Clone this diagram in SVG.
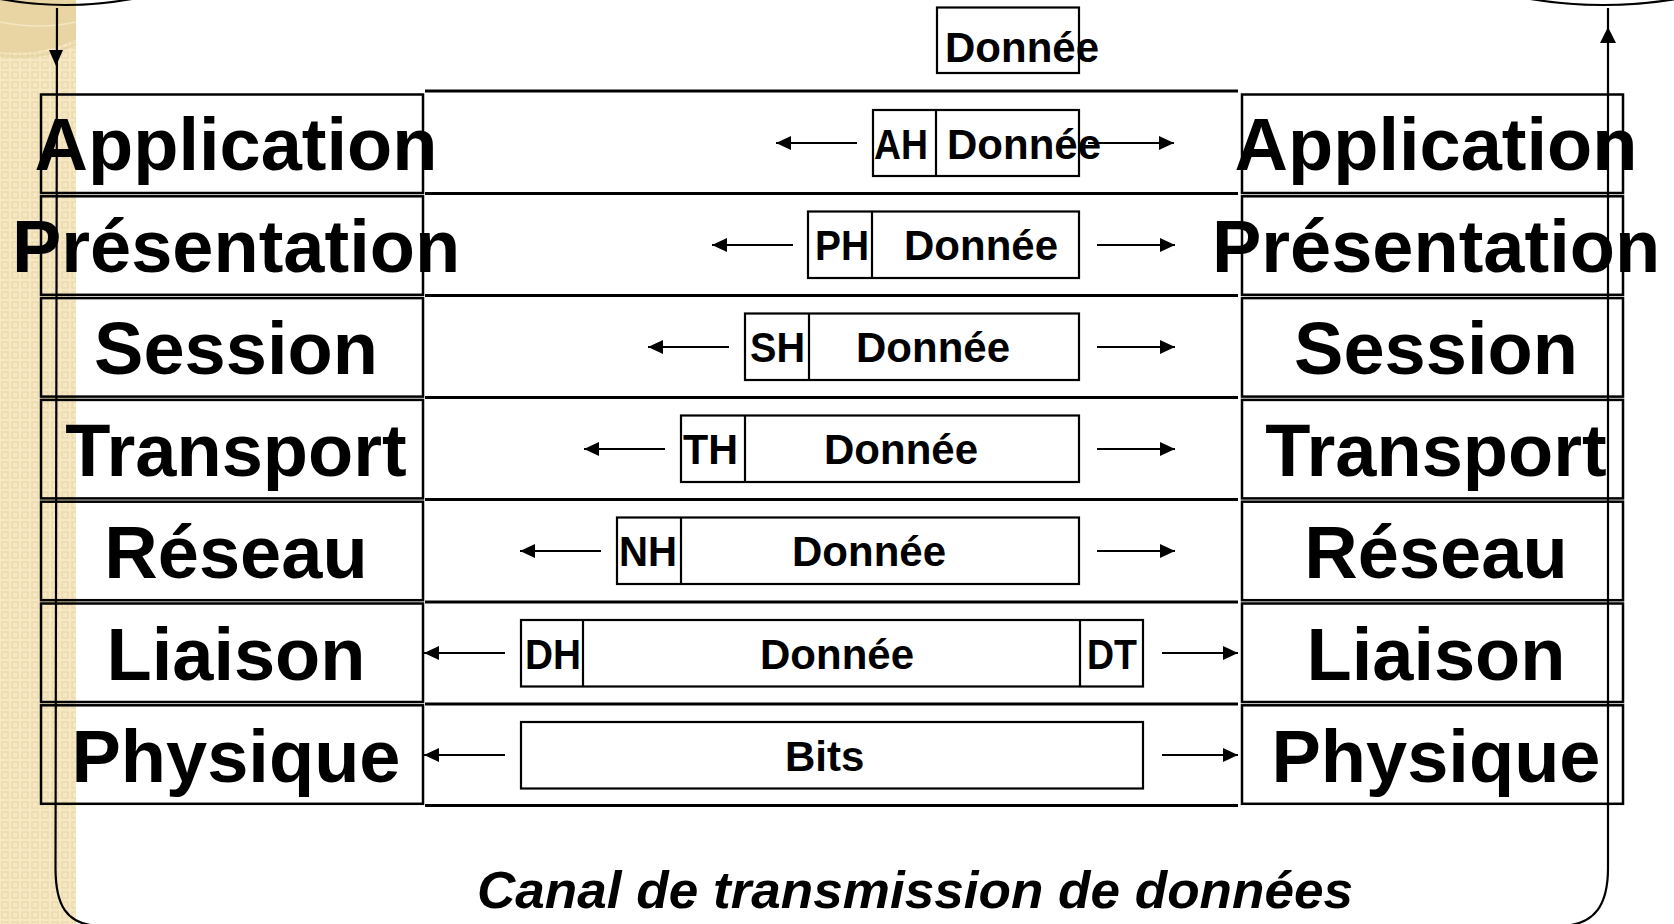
<svg xmlns="http://www.w3.org/2000/svg" width="1674" height="924" viewBox="0 0 1674 924">
<defs>
<style>
.big{font-family:"Liberation Sans",Arial,sans-serif;font-weight:bold;font-size:74px;text-anchor:middle;fill:#000}
.pk{font-family:"Liberation Sans",Arial,sans-serif;font-weight:bold;font-size:42px;fill:#000}
.cap{font-family:"Liberation Sans",Arial,sans-serif;font-weight:bold;font-style:italic;font-size:52px;fill:#000}
.col{fill:none;stroke:#000;stroke-width:2.5}
.box{fill:none;stroke:#000;stroke-width:2.2}
.hl{stroke:#000;stroke-width:2.8;fill:none}
.ar{stroke:#000;stroke-width:2;fill:none;marker-end:url(#ah)}
.vl{stroke:#000;stroke-width:2.2;fill:none}
</style>
<marker id="ah" markerUnits="userSpaceOnUse" markerWidth="16" markerHeight="14" refX="15" refY="7" orient="auto">
<path d="M0,0 L15,7 L0,14 Z" fill="#000"/>
</marker>
<pattern id="chk" width="10" height="10" patternUnits="userSpaceOnUse">
<rect width="10" height="10" fill="#F6E8C3"/>
<rect x="2" y="2" width="6" height="6" fill="none" stroke="#EBD8A9" stroke-width="1.2"/>
</pattern>
</defs>
<rect width="1674" height="924" fill="#fff"/>
<g id="background">
<rect x="0" y="0" width="76" height="924" fill="url(#chk)"/>
<path d="M0,0 L76,0 L76,40 Q40,56 0,52 Z" fill="#E9D5A3"/>
<path d="M0,22 Q40,30 76,22" stroke="#F4E6C2" stroke-width="1.5" fill="none"/>
<path d="M0,55 Q40,61 76,44" stroke="#E3CE9A" stroke-width="3" fill="none" opacity="0.6"/>
<path d="M0,-1 Q65,11 132,-1" class="vl"/>
<path d="M1530,-1 Q1603,11 1676,-1" class="vl"/>
</g>
<g id="connectors">
<path class="vl" d="M57,8 L55.5,868 C55.5,905 66,924 98,926"/>
<path d="M49,50 L63,50 L56,66 Z" fill="#000"/>
<path class="vl" d="M1608,8 L1608,868 C1608,905 1595,924 1563,926"/>
<path d="M1600,43 L1616,43 L1608,27 Z" fill="#000"/>
<line class="ar" x1="857" y1="143" x2="776" y2="143"/>
<line class="ar" x1="1088" y1="143" x2="1174" y2="143"/>
<line class="ar" x1="793" y1="245" x2="712" y2="245"/>
<line class="ar" x1="1097" y1="245" x2="1175" y2="245"/>
<line class="ar" x1="729" y1="347" x2="648" y2="347"/>
<line class="ar" x1="1097" y1="347" x2="1175" y2="347"/>
<line class="ar" x1="665" y1="449" x2="584" y2="449"/>
<line class="ar" x1="1097" y1="449" x2="1175" y2="449"/>
<line class="ar" x1="601" y1="551" x2="520" y2="551"/>
<line class="ar" x1="1097" y1="551" x2="1175" y2="551"/>
<line class="ar" x1="505" y1="653" x2="424" y2="653"/>
<line class="ar" x1="1162" y1="653" x2="1238" y2="653"/>
<line class="ar" x1="505" y1="755" x2="424" y2="755"/>
<line class="ar" x1="1162" y1="755" x2="1238" y2="755"/>
</g>
<g id="channel-lines">
<line class="hl" x1="425" y1="91" x2="1238" y2="91"/>
<line class="hl" x1="425" y1="193.5" x2="1238" y2="193.5"/>
<line class="hl" x1="425" y1="295.5" x2="1238" y2="295.5"/>
<line class="hl" x1="425" y1="397.5" x2="1238" y2="397.5"/>
<line class="hl" x1="425" y1="499.5" x2="1238" y2="499.5"/>
<line class="hl" x1="425" y1="602" x2="1238" y2="602"/>
<line class="hl" x1="425" y1="704" x2="1238" y2="704"/>
<line class="hl" x1="425" y1="805.5" x2="1238" y2="805.5"/>
</g>
<g id="left-stack">
<rect class="col" x="41" y="94.5" width="382" height="98.5"/>
<rect class="col" x="41" y="196.3" width="382" height="98.5"/>
<rect class="col" x="41" y="298.1" width="382" height="98.5"/>
<rect class="col" x="41" y="399.9" width="382" height="98.5"/>
<rect class="col" x="41" y="501.7" width="382" height="98.5"/>
<rect class="col" x="41" y="603.5" width="382" height="98.5"/>
<rect class="col" x="41" y="705.3" width="382" height="98.5"/>
<text class="big" x="236" y="170">Application</text>
<text class="big" x="236" y="272">Présentation</text>
<text class="big" x="236" y="374">Session</text>
<text class="big" x="236" y="476">Transport</text>
<text class="big" x="236" y="578">Réseau</text>
<text class="big" x="236" y="680">Liaison</text>
<text class="big" x="236" y="782">Physique</text>
</g>
<g id="right-stack">
<rect class="col" x="1242" y="94.5" width="381" height="98.5"/>
<rect class="col" x="1242" y="196.3" width="381" height="98.5"/>
<rect class="col" x="1242" y="298.1" width="381" height="98.5"/>
<rect class="col" x="1242" y="399.9" width="381" height="98.5"/>
<rect class="col" x="1242" y="501.7" width="381" height="98.5"/>
<rect class="col" x="1242" y="603.5" width="381" height="98.5"/>
<rect class="col" x="1242" y="705.3" width="381" height="98.5"/>
<text class="big" x="1436" y="170">Application</text>
<text class="big" x="1436" y="272">Présentation</text>
<text class="big" x="1436" y="374">Session</text>
<text class="big" x="1436" y="476">Transport</text>
<text class="big" x="1436" y="578">Réseau</text>
<text class="big" x="1436" y="680">Liaison</text>
<text class="big" x="1436" y="782">Physique</text>
</g>
<g id="pdu-data">
<rect class="box" x="937" y="7.5" width="142" height="65.5"/>
<text class="pk" x="945" y="62">Donnée</text>
</g>
<g id="pdu-application">
<rect class="box" x="873" y="110" width="206" height="66"/>
<line class="box" x1="936" y1="110" x2="936" y2="176"/>
<text class="pk" x="874" y="159" textLength="54" lengthAdjust="spacingAndGlyphs">AH</text>
<text class="pk" x="947" y="159">Donnée</text>
</g>
<g id="pdu-presentation">
<rect class="box" x="808" y="211.5" width="271" height="66.5"/>
<line class="box" x1="872" y1="211.5" x2="872" y2="278"/>
<text class="pk" x="815" y="260" textLength="54" lengthAdjust="spacingAndGlyphs">PH</text>
<text class="pk" x="904" y="260">Donnée</text>
</g>
<g id="pdu-session">
<rect class="box" x="745" y="313.5" width="334" height="66.5"/>
<line class="box" x1="809" y1="313.5" x2="809" y2="380"/>
<text class="pk" x="750" y="362" textLength="55" lengthAdjust="spacingAndGlyphs">SH</text>
<text class="pk" x="856" y="362">Donnée</text>
</g>
<g id="pdu-transport">
<rect class="box" x="681" y="415.5" width="398" height="66.5"/>
<line class="box" x1="745" y1="415.5" x2="745" y2="482"/>
<text class="pk" x="683" y="464" textLength="55" lengthAdjust="spacingAndGlyphs">TH</text>
<text class="pk" x="824" y="464">Donnée</text>
</g>
<g id="pdu-reseau">
<rect class="box" x="617" y="517.5" width="462" height="66.5"/>
<line class="box" x1="681" y1="517.5" x2="681" y2="584"/>
<text class="pk" x="619" y="566" textLength="58" lengthAdjust="spacingAndGlyphs">NH</text>
<text class="pk" x="792" y="566">Donnée</text>
</g>
<g id="pdu-liaison">
<rect class="box" x="521" y="620" width="622" height="66.5"/>
<line class="box" x1="583" y1="620" x2="583" y2="686.5"/>
<line class="box" x1="1080" y1="620" x2="1080" y2="686.5"/>
<text class="pk" x="525" y="669" textLength="56" lengthAdjust="spacingAndGlyphs">DH</text>
<text class="pk" x="760" y="669">Donnée</text>
<text class="pk" x="1087" y="669" textLength="50" lengthAdjust="spacingAndGlyphs">DT</text>
</g>
<g id="pdu-physique">
<rect class="box" x="521" y="722" width="622" height="66.5"/>
<text class="pk" x="785" y="771">Bits</text>
</g>
<g id="caption">
<text class="cap" x="477" y="908" textLength="876" lengthAdjust="spacingAndGlyphs">Canal de transmission de données</text>
</g>
</svg>
